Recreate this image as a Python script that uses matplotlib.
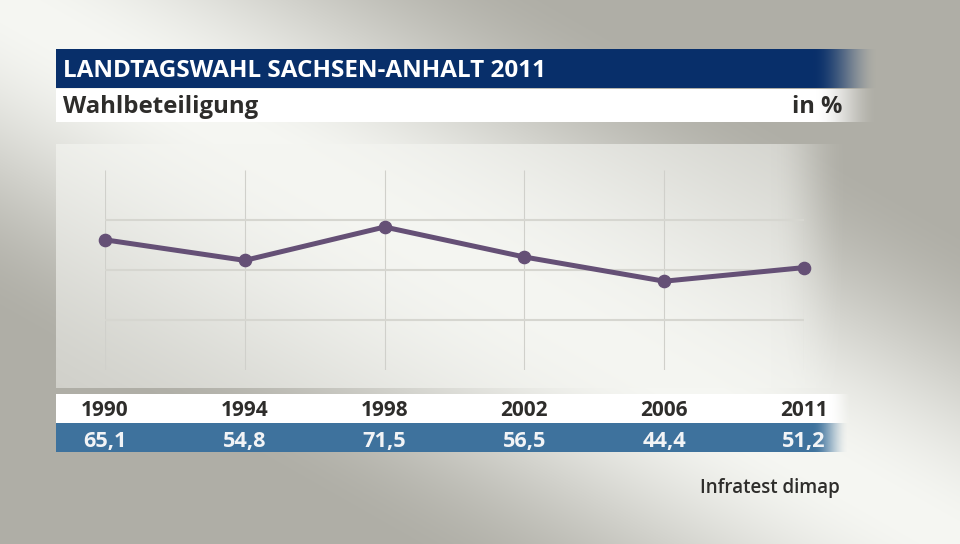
import numpy as np
import matplotlib.pyplot as plt
import matplotlib.transforms as mtransforms
from matplotlib.colors import to_rgb

plt.rcParams["font.family"] = ["Open Sans", "DejaVu Sans"]

# Data
years = ["1990", "1994", "1998", "2002", "2006", "2011"]
turnout = [65.1, 54.8, 71.5, 56.5, 44.4, 51.2]
grid_levels = [25, 50, 75]

TITLE = "LANDTAGSWAHL SACHSEN-ANHALT 2011"
SUBTITLE = "Wahlbeteiligung"
UNIT = "in %"
SOURCE = "Infratest dimap"

NAVY = "#082f6a"
BAND_BLUE = "#3e729d"
LINE_COLOR = "#655076"
TEXT_DARK = "#2e2d2b"

W, H = 960, 544
fig = plt.figure(figsize=(W / 100, H / 100), dpi=100)

# full-figure axes in pixel coordinates for the backdrop
bg = fig.add_axes([0, 0, 1, 1])
bg.set_xlim(0, W)
bg.set_ylim(H, 0)
bg.axis("off")

light = np.array(to_rgb("#f6f7f3"))
dark = np.array(to_rgb("#afaea6"))


def diag_gradient(x0, x1, y0, y1, width, lo, hi):
    xx, yy = np.meshgrid(np.arange(x0, x1) + 0.5, np.arange(y0, y1) + 0.5)
    d = np.abs(xx / W - yy / H)
    t = np.clip(d / width, 0, 1)
    t = t * t * (3 - 2 * t)
    t = lo + (hi - lo) * t
    return light[None, None, :] * (1 - t[..., None]) + dark[None, None, :] * t[..., None]


img = diag_gradient(0, W, 0, H, 0.6, 0.0, 1.0)
bg.imshow(img, extent=(0, W, H, 0), aspect="auto", zorder=0)


def faded_band(x0, x1, y0, y1, fade_from, rgb_img, z=1):
    n = x1 - x0
    xs = np.arange(n) + x0
    alpha = np.clip((x1 - xs) / (x1 - fade_from), 0, 1)
    alpha = alpha * alpha * (3 - 2 * alpha)
    rgba = np.zeros((y1 - y0, n, 4))
    rgba[..., :3] = rgb_img
    rgba[..., 3] = alpha[None, :]
    bg.imshow(rgba, extent=(x0, x1, y1, y0), aspect="auto", zorder=z)


def solid(color, x0, x1, y0, y1):
    return np.ones((y1 - y0, x1 - x0, 3)) * np.array(to_rgb(color))


# title bar, subtitle band
faded_band(56, 878, 49, 88, 812, solid(NAVY, 56, 878, 49, 88))
faded_band(56, 878, 89, 122, 815, solid("#ffffff", 56, 878, 89, 122))

# plot panel
panel = diag_gradient(56, 850, 144, 388, 0.75, 0.02, 0.55)
faded_band(56, 850, 144, 388, 770, panel)

# year / value bands
faded_band(56, 852, 394, 423, 828, solid("#ffffff", 56, 852, 394, 423))
faded_band(56, 848, 423, 452, 812, solid(BAND_BLUE, 56, 848, 423, 452))

bg.text(63, 77, TITLE, color="white", fontsize=17.5, fontweight="bold",
        va="baseline", ha="left", zorder=5)
bg.text(63, 113, SUBTITLE, color=TEXT_DARK, fontsize=17.3, fontweight="bold",
        va="baseline", ha="left", zorder=5)
bg.text(842, 113, UNIT, color=TEXT_DARK, fontsize=17, fontweight="bold",
        va="baseline", ha="right", zorder=5)
bg.text(840, 493, SOURCE, color=TEXT_DARK, fontsize=13.5, fontweight="semibold",
        va="baseline", ha="right", zorder=5)

# line chart axes: x = category index, y = 0..100 %
ax = fig.add_axes([105 / W, 1 - 370 / H, (804 - 105) / W, 200 / H])
ax.set_xlim(0, len(years) - 1)
ax.set_ylim(0, 100)
ax.axis("off")
ax.patch.set_visible(False)

x = np.arange(len(years))
ax.vlines(x, 0, 100, color="#d0d0cb", lw=0.8, zorder=1)
ax.hlines(grid_levels, 0, len(years) - 1, color="#d6d6d0", lw=1.5, zorder=1)
ax.plot(x, turnout, color=LINE_COLOR, lw=3.6, marker="o", ms=8.8,
        solid_capstyle="round", clip_on=False, zorder=3)

# labels under the chart, x from the data axes, y in pixels
trans = mtransforms.blended_transform_factory(ax.transData, bg.transData)
for i, (yr, v) in enumerate(zip(years, turnout)):
    ax.text(i, 416, yr, transform=trans, ha="center", va="baseline",
            fontsize=15, fontweight="bold", color=TEXT_DARK, zorder=5)
    ax.text(i, 447, f"{v:.1f}".replace(".", ","), transform=trans,
            ha="center", va="baseline", fontsize=15.7, fontweight="bold",
            color="#f2f4f6", zorder=5)

fig.savefig("out.png", dpi=100)
